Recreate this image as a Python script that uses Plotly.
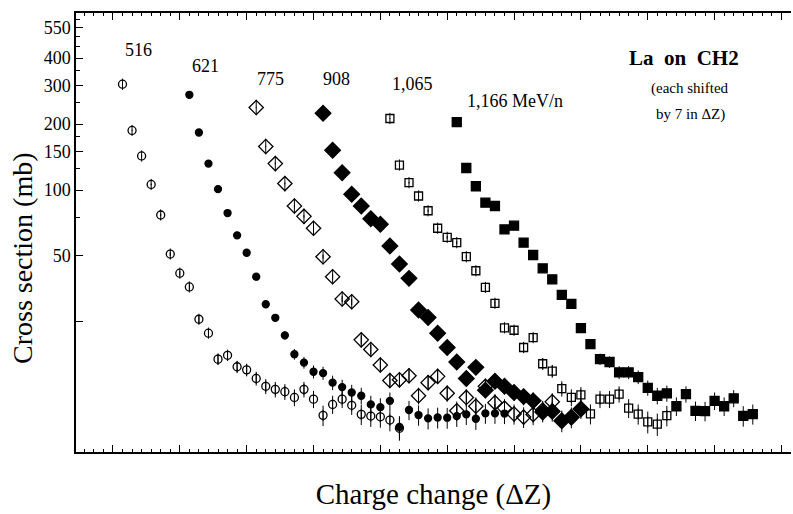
import plotly.graph_objects as go

# Charge-changing cross sections of La on CH2 at six beam energies.
# Each energy is shifted by 7 units in delta-Z relative to the previous one.

energies = ["516", "621", "775", "908", "1,065", "1,166 MeV/n"]

dz_516 = list(range(1, 31))
xs_516 = [304, 187, 143, 106, 76.9, 51.0, 41.7, 36.1, 25.7, 22.2,
          16.9, 17.6, 15.6, 15.1, 13.8, 12.7, 12.3, 12.0, 11.3, 12.3,
          11.1, 9.36, 10.5, 11.1, 10.4, 9.46, 9.29, 9.22, 8.91, 8.17]

dz_621 = list(range(8, 42))
xs_621 = [272, 183, 132, 101, 78.5, 62.1, 51.7, 40.2, 30.1, 26.1,
          21.7, 17.8, 16.3, 14.8, 14.6, 13.2, 12.6, 11.9, 11.5, 10.5,
          10.2, 10.9, 8.28, 9.90, 9.39, 9.07, 9.15, 9.13, 9.29, 9.46,
          9.03, 9.56, 9.56, 9.54]

dz_775 = list(range(15, 47))
xs_775 = [238, 158, 132, 107, 84.5, 75.8, 66.9, 49.6, 40.2, 31.8,
          30.9, 20.7, 18.7, 15.9, 13.5, 13.6, 14.2, 11.5, 13.2, 14.1,
          11.8, 9.82, 11.3, 10.3, 12.7, 10.7, 10.1, 9.49, 9.19, 9.44,
          9.90, 10.8]

dz_908 = list(range(22, 50))
xs_908 = [224, 152, 120, 95.6, 84.5, 73.9, 69.7, 55.5, 45.9, 39.5,
          28.3, 26.2, 22.2, 19.1, 16.4, 13.8, 15.5, 12.2, 13.4, 12.7,
          11.9, 11.4, 10.9, 9.69, 9.76, 8.84, 9.17, 10.0]

dz_1065 = list(range(29, 59))
xs_1065 = [212, 130, 108, 93.9, 80.4, 66.9, 60.8, 57.5, 49.6, 42.8,
           35.9, 30.4, 23.5, 22.9, 19.1, 21.2, 16.1, 14.9, 12.4, 11.3,
           11.6, 9.51, 11.1, 11.1, 11.7, 10.1, 9.49, 8.74, 8.54, 9.34]

dz_1166 = list(range(36, 68))
xs_1166 = [204, 126, 104, 87.5, 84.5, 66.1, 68.7, 57.5, 50.5, 43.9,
           39.1, 33.2, 30.2, 23.4, 19.8, 16.9, 16.4, 14.7, 14.7, 14.0,
           12.5, 11.5, 11.8, 10.3, 11.7, 9.82, 9.79, 10.9, 10.3, 11.2,
           9.31, 9.49]

# uncertainty of each measured point (mb)
err_mb = 1.0

series = [
    (dz_516, xs_516, "circle-open", 8),
    (dz_621, xs_621, "circle", 7),
    (dz_775, xs_775, "diamond-open", 11),
    (dz_908, xs_908, "diamond", 12),
    (dz_1065, xs_1065, "square-open", 8),
    (dz_1166, xs_1166, "square", 9),
]

y_tickvals = [25, 50, 100, 150, 200, 300, 400, 550]
y_ticktext = ["", "50", "100", "150", "200", "300", "400", "550"]
y_minorvals = [75, 125, 175, 250, 350, 450, 500, 600]

fig = go.Figure()
for (dz, xs, sym, size), name in zip(series, energies):
    fig.add_trace(go.Scatter(
        x=dz, y=xs, mode="markers", name=name,
        marker=dict(symbol=sym, size=size, color="black",
                    line=dict(color="black", width=1.3)),
        error_y=dict(type="constant", value=err_mb, color="black",
                     thickness=1, width=0),
    ))
    if sym.endswith("-open"):
        # vertical stroke through the hollow symbols
        fig.add_trace(go.Scatter(
            x=dz, y=xs, mode="markers", hoverinfo="skip",
            marker=dict(symbol="line-ns", size=size,
                        line=dict(color="black", width=1)),
        ))

serif = "Liberation Serif"

fig.update_layout(
    width=793, height=514,
    margin=dict(l=76, r=2, t=13, b=62),
    paper_bgcolor="white", plot_bgcolor="white",
    showlegend=False,
    font=dict(family=serif, color="black"),
    xaxis=dict(
        range=[-3.87, 71.0], showgrid=False, zeroline=False,
        showline=True, linecolor="black", linewidth=1.5, mirror="allticks",
        ticks="inside", tickmode="linear", tick0=0, dtick=7,
        ticklen=7, tickwidth=1, tickcolor="black", showticklabels=False,
        minor=dict(ticks="inside", tickmode="linear", tick0=0, dtick=1,
                   ticklen=3, tickwidth=1, tickcolor="black"),
        title=dict(text="Charge change (\u0394Z)",
                   font=dict(family=serif, size=29), standoff=31),
    ),
    yaxis=dict(
        type="log", range=[0.804, 2.808], showgrid=False, zeroline=False,
        showline=True, linecolor="black", linewidth=1.5, mirror=False,
        ticks="inside", tickmode="array", tickvals=y_tickvals,
        ticktext=y_ticktext, ticklen=7, tickwidth=1, tickcolor="black",
        tickfont=dict(family=serif, size=18),
        minor=dict(ticks="inside", tickmode="array", tickvals=y_minorvals,
                   ticklen=4, tickwidth=1, tickcolor="black"),
    ),
)


def to_paper(px, py):
    return (px - 76) / 715, (452 - py) / 439


# vertical axis title
tx, ty = to_paper(22, 258)
fig.add_annotation(x=tx, y=ty, xref="paper", yref="paper",
                   text="Cross section (mb)", textangle=-90,
                   xanchor="center", yanchor="middle", showarrow=False,
                   font=dict(family=serif, size=28))

# energy labels above each curve
label_pos = [(138, 50), (205, 66), (270, 79), (336, 79), (412, 84), (515, 101)]
for text, (px, py) in zip(energies, label_pos):
    xp, yp = to_paper(px, py)
    fig.add_annotation(x=xp, y=yp, xref="paper", yref="paper", text=text,
                       xanchor="center", yanchor="middle",
                       showarrow=False, font=dict(family=serif, size=18))

nb = "\u00a0"
for text, (px, py), size, bold in [
    (f"La{nb}{nb}on{nb}{nb}CH2", (684, 58), 21, True),
    ("(each shifted", (690, 88), 15, False),
    ("by 7 in \u0394Z)", (690, 114), 15, False),
]:
    xp, yp = to_paper(px, py)
    fig.add_annotation(x=xp, y=yp, xref="paper", yref="paper",
                       text=f"<b>{text}</b>" if bold else text,
                       xanchor="center", yanchor="middle",
                       showarrow=False, font=dict(family=serif, size=size))

fig.write_html("out.html")
